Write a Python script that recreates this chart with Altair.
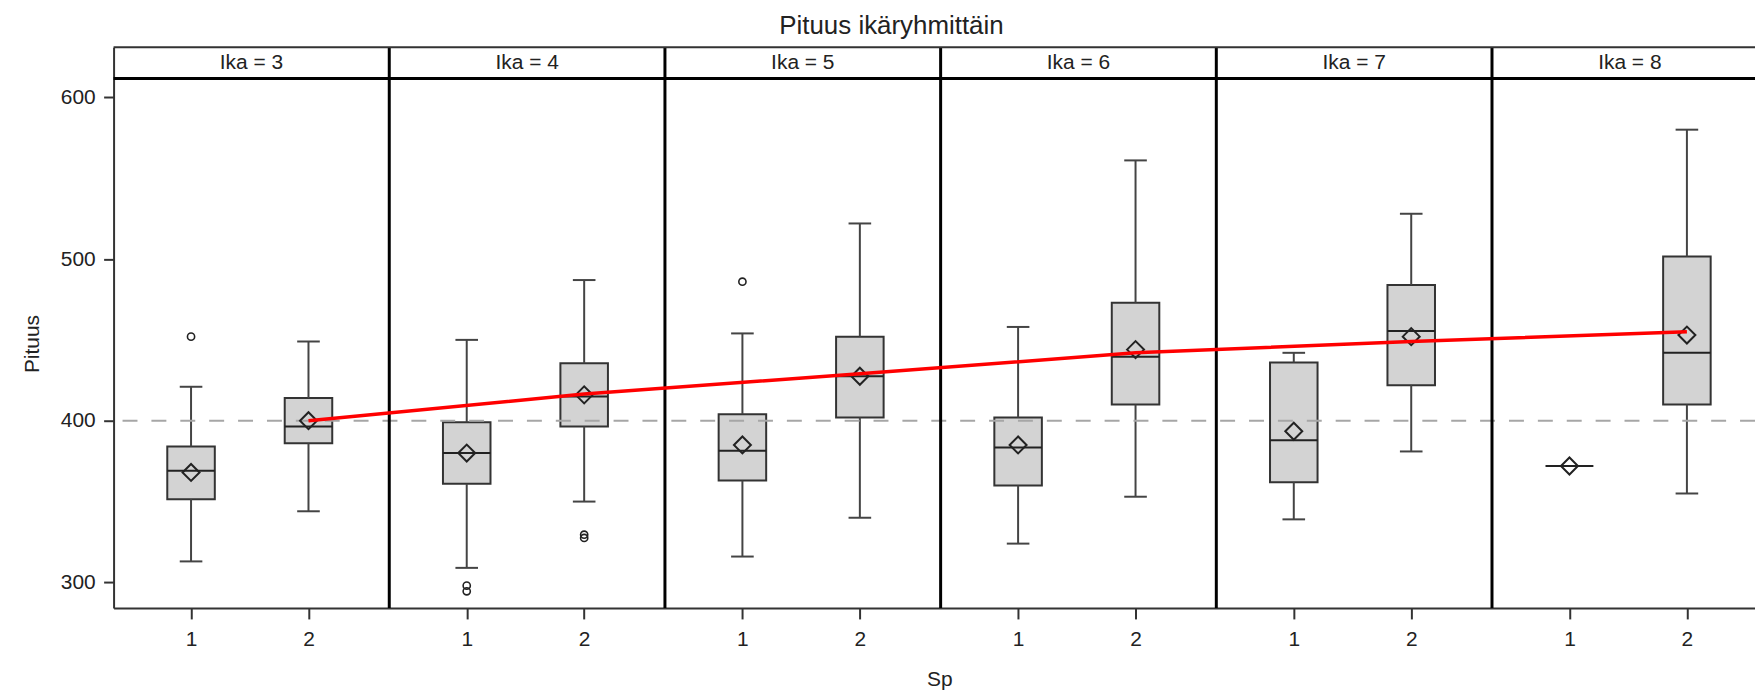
import altair as alt
import pandas as pd

FONT = "Liberation Sans"

# ---- data ----
ika = [3, 4, 5, 6, 7, 8]
sp = [1, 2]
# box statistics, ordered Ika3-Sp1, Ika3-Sp2, Ika4-Sp1, ...
whisker_low = [313, 344, 309, 350, 316, 340, 324, 353, 339, 381, 372, 355]
q1 = [351.5, 386, 361, 396.5, 363, 402, 360, 410, 362, 422, 372, 410]
median = [369, 396.5, 380, 415, 381.5, 427.5, 383.5, 439.5, 388, 455.5, 372, 442]
q3 = [384, 414, 399, 435.5, 404, 452, 402, 473, 436, 484, 372, 501.5]
whisker_high = [421, 449, 450, 487, 454, 522, 458, 561, 442, 528, 372, 580]
mean = [368, 400, 380, 416, 385, 427.5, 385, 444, 393.5, 452, 372, 453]
outlier_ika = [3, 4, 4, 4, 4, 5]
outlier_sp = [1, 1, 1, 2, 2, 1]
outlier_val = [452, 298, 294.5, 329.5, 327.5, 486]
trend_val = [400, 416.5, 429, 442, 449, 455]   # red curve at Sp=2 of each Ika
ref_value = [400]

# ---- layout helpers (panel = 1 unit on x) ----
sp_offset = {1: 0.281, 2: 0.707}
box_half = 0.0862
cap_half = 0.041
x_max = 5.954
y_min, y_max = 284.2, 631.0
header_low = 611.7

def pos(k, s):
    return ika.index(k) + sp_offset[s]

groups = [(k, s) for k in ika for s in sp]
box = pd.DataFrame({
    "Ika": [g[0] for g in groups],
    "Sp": [g[1] for g in groups],
    "low": whisker_low, "q1": q1, "median": median, "q3": q3,
    "high": whisker_high, "mean": mean,
})
box["pos"] = [pos(k, s) for k, s in groups]
box["bl"] = box["pos"] - box_half
box["br"] = box["pos"] + box_half
box["cl"] = box["pos"] - cap_half
box["cr"] = box["pos"] + cap_half

out = pd.DataFrame({"Ika": outlier_ika, "Sp": outlier_sp, "val": outlier_val})
out["pos"] = [pos(k, s) for k, s in zip(outlier_ika, outlier_sp)]

trend = pd.DataFrame({"Ika": ika, "val": trend_val})
trend["pos"] = [pos(k, 2) for k in ika]

panels = pd.DataFrame({"Ika": ika, "label": [f"Ika = {k}" for k in ika]})
panels["mid"] = [ika.index(k) + 0.5 for k in ika]
panels["hy"] = (header_low + y_max) / 2
dividers = pd.DataFrame({"b": list(range(1, len(ika)))})
header_lines = pd.DataFrame({"y": [header_low]})
top_line = pd.DataFrame({"y": [y_max]})
ref = pd.DataFrame({"y": ref_value})

tick_positions = [pos(k, s) for k, s in groups]

xs = alt.Scale(domain=[0, x_max], nice=False, zero=False)
ys = alt.Scale(domain=[y_min, y_max], nice=False, zero=False)

DARK = "#333333"

x_axis = alt.Axis(
    values=tick_positions, labelExpr="(datum.value % 1) < 0.5 ? '1' : '2'",
    title="Sp", grid=False, domain=True, domainColor=DARK, domainWidth=2,
    ticks=True, tickSize=11, tickWidth=2, tickColor=DARK,
    labelFont=FONT, labelFontSize=21, labelColor="#222222", labelPadding=10,
    labelAngle=0, labelOverlap=False, labelFlush=False,
    titleFont=FONT, titleFontSize=21, titleFontWeight="normal", titleColor="#222222",
    titleX=829, titleY=77.5, titleBaseline="alphabetic", titleAlign="center",
)
y_axis = alt.Axis(
    values=[300, 400, 500, 600], title="Pituus", grid=False,
    domain=True, domainColor=DARK, domainWidth=2,
    ticks=True, tickSize=10, tickWidth=2, tickColor=DARK,
    labelFont=FONT, labelFontSize=21, labelColor="#222222", labelPadding=8.5,
    titleFont=FONT, titleFontSize=21, titleFontWeight="normal", titleColor="#222222",
    titleX=-75, titleY=297.5, titleBaseline="alphabetic", titleAlign="center",
)

def X(field):
    return alt.X(field, type="quantitative", scale=xs, axis=x_axis)

def Y(field):
    return alt.Y(field, type="quantitative", scale=ys, axis=y_axis)

base = alt.Chart(box)
WH = "#444444"

boxes = base.mark_rect(fill="#D3D3D3", stroke=DARK, strokeWidth=2).encode(
    x=X("bl"), x2="br", y=Y("q1"), y2="q3")
whisk_lo = base.mark_rule(color=WH, strokeWidth=2).encode(x=X("pos"), y=Y("low"), y2="q1")
whisk_hi = base.mark_rule(color=WH, strokeWidth=2).encode(x=X("pos"), y=Y("q3"), y2="high")
cap_lo = base.mark_rule(color=WH, strokeWidth=2).encode(x=X("cl"), x2="cr", y=Y("low"))
cap_hi = base.mark_rule(color=WH, strokeWidth=2).encode(x=X("cl"), x2="cr", y=Y("high"))
med = base.mark_rule(color="#222222", strokeWidth=2).encode(x=X("bl"), x2="br", y=Y("median"))

ref_line = alt.Chart(ref).mark_rule(color="#A6A6A6", strokeWidth=2, strokeDash=[15, 14]).encode(
    y=Y("y"))

diamonds = base.mark_point(shape="diamond", filled=False, size=290, stroke="#222222",
                           strokeWidth=2, opacity=1).encode(x=X("pos"), y=Y("mean"))

outliers = alt.Chart(out).mark_point(shape="circle", filled=False, size=52, stroke="#222222",
                                     strokeWidth=1.6, opacity=1).encode(x=X("pos"), y=Y("val"))

div_lines = alt.Chart(dividers).mark_rule(color="#000000", strokeWidth=3).encode(x=X("b"))
head_bottom = alt.Chart(header_lines).mark_rule(color="#000000", strokeWidth=3).encode(y=Y("y"))
head_top = alt.Chart(top_line).mark_rule(color=DARK, strokeWidth=2).encode(y=Y("y"))
head_text = alt.Chart(panels).mark_text(font=FONT, fontSize=21, color="#222222",
                                        baseline="middle", align="center").encode(
    x=X("mid"), y=Y("hy"), text="label:N")

red = alt.Chart(trend).mark_line(color="#FF0000", strokeWidth=3.5).encode(
    x=X("pos"), y=Y("val"))

chart = alt.layer(
    boxes, whisk_lo, whisk_hi, cap_lo, cap_hi, med, ref_line, diamonds, outliers,
    div_lines, head_bottom, head_top, head_text, red,
).properties(
    width=1648, height=563,
    autosize=alt.AutoSizeParams(type="none"),
    padding={"left": 106, "top": 38, "right": 0, "bottom": 84},
    title=alt.TitleParams("Pituus ikäryhmittäin", font=FONT, fontSize=26,
                          fontWeight="normal", color="#222222", anchor="middle",
                          frame="group", dx=-43, offset=7),
).configure_view(stroke=None)

chart.save("out.html", embed_options={"renderer": "svg", "actions": False})
